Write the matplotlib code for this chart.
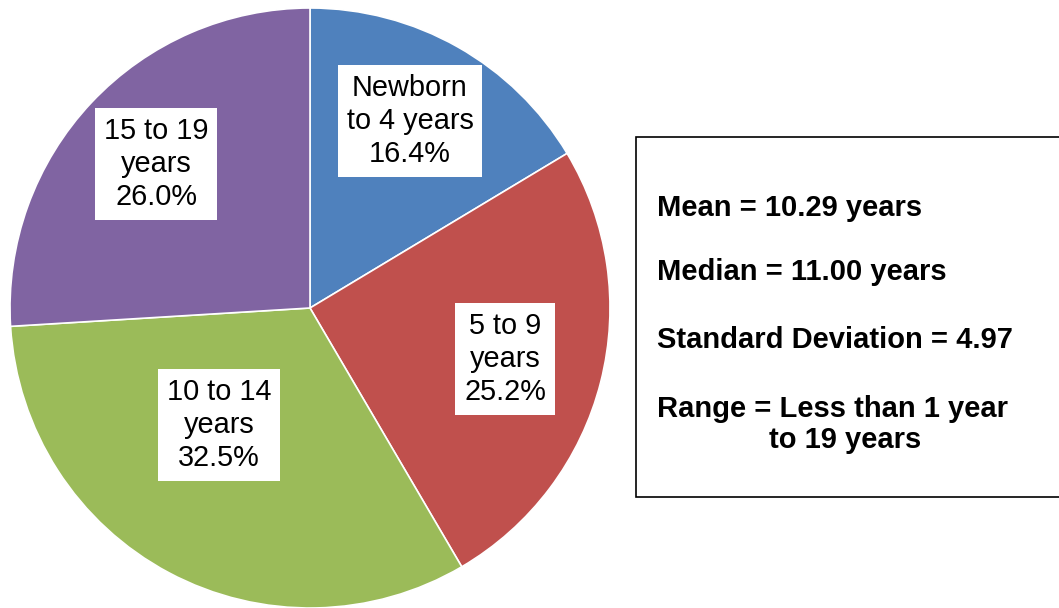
import matplotlib
matplotlib.use("Agg")
import matplotlib.pyplot as plt
from matplotlib.patches import Rectangle

categories = ["Newborn\nto 4 years", "5 to 9\nyears", "10 to 14\nyears", "15 to 19\nyears"]
percentages = [16.4, 25.2, 32.5, 26.0]
colors = ["#4F81BD", "#C0504D", "#9BBB59", "#8064A2"]
stats_lines = ["Mean = 10.29 years", "Median = 11.00 years",
               "Standard Deviation = 4.97", "Range = Less than 1 year"]
stats_cont = "to 19 years"

plt.rcParams['font.family'] = ['Liberation Sans', 'DejaVu Sans']

W, H = 1059, 608
fig = plt.figure(figsize=(W / 100, H / 100), dpi=100)

# pie axes: center (310,308), radius 300 px
cx, cy, r = 310, 308, 300
ax = fig.add_axes([(cx - r) / W, (H - cy - r) / H, 2 * r / W, 2 * r / H])
wedges, _ = ax.pie(percentages, colors=colors, startangle=90, counterclock=False,
                   radius=1, wedgeprops=dict(edgecolor="white", linewidth=1.2))
ax.set_xlim(-1, 1)
ax.set_ylim(-1, 1)
ax.set_aspect('equal')
ax.axis('off')

label_px = [(410, 121), (505, 359), (219, 425), (156, 164)]
for cat, pct, (px, py) in zip(categories, percentages, label_px):
    ax.text((px - cx) / r, (cy - py) / r, f"{cat}\n{pct:.1f}%", ha="center", va="center",
            fontsize=20.8, linespacing=1.22,
            bbox=dict(boxstyle="square,pad=0.3", facecolor="white", edgecolor="none"))

# stats box
fig.patches.append(Rectangle((636 / W, (H - 497) / H), (1070 - 636) / W, (497 - 137) / H,
                             transform=fig.transFigure, facecolor="white",
                             edgecolor="black", linewidth=1.2))
ys = [208, 272, 340, 409]
for line, y in zip(stats_lines, ys):
    fig.text(657 / W, (H - y) / H, line, ha="left", va="center", fontsize=21, fontweight="bold")
fig.text(845 / W, (H - 440) / H, stats_cont, ha="center", va="center", fontsize=21, fontweight="bold")

fig.savefig("out.png", dpi=100)
